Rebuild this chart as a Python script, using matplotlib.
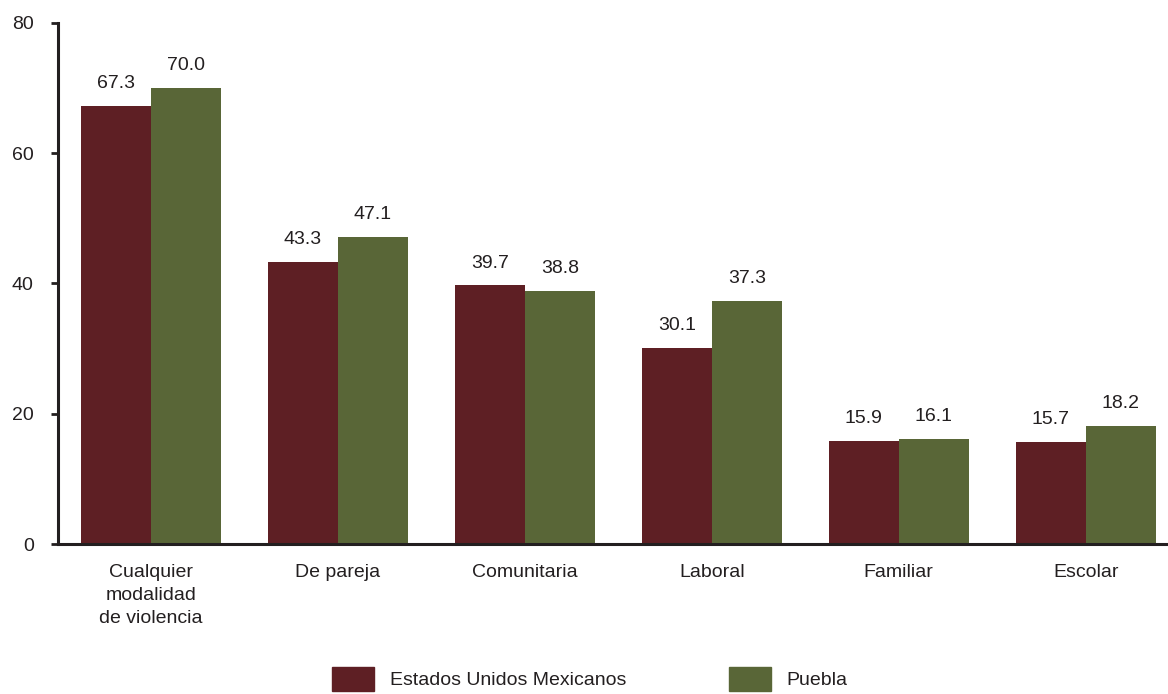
import numpy as np
import matplotlib.pyplot as plt
from matplotlib.patches import Patch

plt.rcParams['font.family'] = ['Liberation Sans', 'DejaVu Sans']

# data
categorias = ["Cualquier\nmodalidad\nde violencia", "De pareja", "Comunitaria",
              "Laboral", "Familiar", "Escolar"]
nacional = [67.3, 43.3, 39.7, 30.1, 15.9, 15.7]
puebla = [70.0, 47.1, 38.8, 37.3, 16.1, 18.2]
series_nombres = ["Estados Unidos Mexicanos", "Puebla"]

col_nac = "#5E1F24"
col_pue = "#596637"
txt = "#231F20"
fs = 14

fig = plt.figure(figsize=(11.68, 6.94), dpi=100)
ax = fig.add_axes([0.0497, 0.216, 0.9503, 0.751])

x = np.arange(len(categorias))
w = 0.374
b1 = ax.bar(x - w / 2, nacional, w, color=col_nac)
b2 = ax.bar(x + w / 2, puebla, w, color=col_pue)

for bars, vals in [(b1, nacional), (b2, puebla)]:
    for r, v in zip(bars, vals):
        ax.annotate(f"{v:.1f}", (r.get_x() + r.get_width() / 2, v),
                    xytext=(0, 10), textcoords="offset points",
                    ha="center", va="bottom", fontsize=fs, color=txt)

ax.set_ylim(0, 80)
ax.set_yticks([0, 20, 40, 60, 80])
ax.set_xlim(-0.497, 5.44)
ax.set_xticks(x)
ax.set_xticklabels(categorias, fontsize=fs, color=txt, linespacing=1.48)
ax.tick_params(axis="x", length=0, pad=14)
ax.tick_params(axis="y", length=5, width=2, color=txt, labelsize=fs,
               labelcolor=txt, pad=12.5)

for s in ["top", "right"]:
    ax.spines[s].set_visible(False)
for s in ["left", "bottom"]:
    ax.spines[s].set_linewidth(2.2)
    ax.spines[s].set_color(txt)

handles = [Patch(color=col_nac), Patch(color=col_pue)]
fig.legend(handles, series_nombres, loc="upper center",
           bbox_to_anchor=(0.505, 0.039), ncol=2, frameon=False,
           fontsize=fs, handlelength=2.16, handleheight=1.5,
           handletextpad=0.82, columnspacing=5.25, borderpad=0,
           borderaxespad=0, labelcolor=txt)

fig.savefig("out.png", dpi=100)
